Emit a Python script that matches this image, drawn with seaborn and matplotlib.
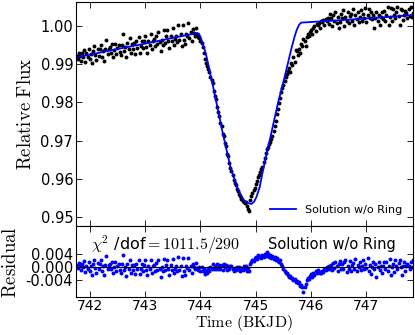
import numpy as np
import seaborn as sns
import matplotlib
matplotlib.use("Agg")
import matplotlib.pyplot as plt
from matplotlib.ticker import FormatStrFormatter

plt.rcParams['mathtext.fontset'] = 'cm'
plt.rcParams['font.family'] = ['DejaVu Sans']

# time stamps of the light curve (BKJD)
time = [
    741.76, 741.78, 741.80, 741.82, 741.84, 741.86, 741.88, 741.90, 741.92, 741.94,
    741.96, 741.98, 742.00, 742.02, 742.04, 742.06, 742.08, 742.10, 742.12, 742.14,
    742.16, 742.18, 742.20, 742.22, 742.24, 742.26, 742.28, 742.30, 742.32, 742.34,
    742.36, 742.38, 742.40, 742.42, 742.44, 742.46, 742.48, 742.50, 742.52, 742.54,
    742.56, 742.58, 742.60, 742.62, 742.64, 742.66, 742.68, 742.70, 742.72, 742.74,
    742.76, 742.78, 742.80, 742.82, 742.84, 742.86, 742.88, 742.90, 742.92, 742.94,
    742.96, 742.98, 743.00, 743.02, 743.04, 743.06, 743.08, 743.10, 743.12, 743.14,
    743.16, 743.18, 743.20, 743.22, 743.24, 743.26, 743.28, 743.30, 743.32, 743.34,
    743.36, 743.38, 743.40, 743.42, 743.44, 743.46, 743.48, 743.50, 743.52, 743.54,
    743.56, 743.58, 743.60, 743.62, 743.64, 743.66, 743.68, 743.70, 743.72, 743.74,
    743.76, 743.78, 743.80, 743.82, 743.84, 743.86, 743.88, 743.90, 743.92, 743.94,
    743.96, 743.98, 744.00, 744.02, 744.04, 744.06, 744.08, 744.10, 744.12, 744.14,
    744.16, 744.18, 744.20, 744.22, 744.24, 744.26, 744.28, 744.30, 744.32, 744.34,
    744.36, 744.38, 744.40, 744.42, 744.44, 744.46, 744.48, 744.50, 744.52, 744.54,
    744.56, 744.58, 744.60, 744.62, 744.64, 744.66, 744.68, 744.70, 744.72, 744.74,
    744.76, 744.78, 744.80, 744.82, 744.84, 744.86, 744.88, 744.90, 744.92, 744.94,
    744.96, 744.98, 745.00, 745.02, 745.04, 745.06, 745.08, 745.10, 745.12, 745.14,
    745.16, 745.18, 745.20, 745.22, 745.24, 745.26, 745.28, 745.30, 745.32, 745.34,
    745.36, 745.38, 745.40, 745.42, 745.44, 745.46, 745.48, 745.50, 745.52, 745.54,
    745.56, 745.58, 745.60, 745.62, 745.64, 745.66, 745.68, 745.70, 745.72, 745.74,
    745.76, 745.78, 745.80, 745.82, 745.84, 745.86, 745.88, 745.90, 745.92, 745.94,
    745.96, 745.98, 746.00, 746.02, 746.04, 746.06, 746.08, 746.10, 746.12, 746.14,
    746.16, 746.18, 746.20, 746.22, 746.24, 746.26, 746.28, 746.30, 746.32, 746.34,
    746.36, 746.38, 746.40, 746.42, 746.44, 746.46, 746.48, 746.50, 746.52, 746.54,
    746.56, 746.58, 746.60, 746.62, 746.64, 746.66, 746.68, 746.70, 746.72, 746.74,
    746.76, 746.78, 746.80, 746.82, 746.84, 746.86, 746.88, 746.90, 746.92, 746.94,
    746.96, 746.98, 747.00, 747.02, 747.04, 747.06, 747.08, 747.10, 747.12, 747.14,
    747.16, 747.18, 747.20, 747.22, 747.24, 747.26, 747.28, 747.30, 747.32, 747.34,
    747.36, 747.38, 747.40, 747.42, 747.44, 747.46, 747.48, 747.50, 747.52, 747.54,
    747.56, 747.58, 747.60, 747.62, 747.64, 747.66, 747.68, 747.70, 747.72, 747.74,
    747.76, 747.78, 747.80, 747.82, 747.84,
]

# observed relative flux
flux = [
    # out of transit, before (741.76 - 743.94)
    0.9922, 0.9913, 0.9929, 0.9922, 0.9908, 0.9929, 0.9918, 0.9938, 0.9905, 0.9929,
    0.9918, 0.9941, 0.9913, 0.9928, 0.9904, 0.9935, 0.9948, 0.9924, 0.9911, 0.9941,
    0.9922, 0.9941, 0.9951, 0.9918, 0.9934, 0.9909, 0.9940, 0.9964, 0.9927, 0.9941,
    0.9944, 0.9929, 0.9953, 0.9920, 0.9938, 0.9953, 0.9926, 0.9942, 0.9951, 0.9931,
    0.9924, 0.9951, 0.9979, 0.9934, 0.9944, 0.9919, 0.9956, 0.9940, 0.9969, 0.9929,
    0.9954, 0.9939, 0.9955, 0.9928, 0.9960, 0.9943, 0.9972, 0.9930, 0.9947, 0.9961,
    0.9942, 0.9961, 0.9975, 0.9946, 0.9930, 0.9961, 0.9950, 0.9980, 0.9941, 0.9961,
    0.9966, 0.9949, 0.9973, 0.9952, 0.9984, 0.9957, 0.9934, 0.9964, 0.9951, 0.9989,
    0.9956, 0.9973, 0.9989, 0.9960, 0.9942, 0.9975, 0.9960, 0.9994, 0.9951, 0.9965,
    0.9974, 0.9959, 1.0003, 0.9964, 0.9978, 0.9947, 1.0002, 0.9964, 0.9953, 0.9979,
    0.9974, 1.0007, 0.9969, 0.9984, 0.9960, 0.9991, 0.9982, 0.9974, 0.9995, 0.9979,
    # ingress (743.96 - 744.90)
    0.9972, 0.9968, 0.9962, 0.9955, 0.9944, 0.9930, 0.9915, 0.9903, 0.9895, 0.9888,
    0.9880, 0.9866, 0.9858, 0.9851, 0.9830, 0.9818, 0.9808, 0.9789, 0.9775, 0.9765,
    0.9746, 0.9737, 0.9718, 0.9712, 0.9693, 0.9685, 0.9666, 0.9659, 0.9641, 0.9628,
    0.9620, 0.9611, 0.9596, 0.9588, 0.9583, 0.9573, 0.9569, 0.9560, 0.9554, 0.9548,
    0.9543, 0.9540, 0.9536, 0.9538, 0.9529, 0.9522, 0.9515, 0.9545,
    # egress (744.92 - 746.30)
    0.9556, 0.9563, 0.9570, 0.9575, 0.9586, 0.9593, 0.9604, 0.9610, 0.9618, 0.9625,
    0.9632, 0.9645, 0.9655, 0.9668, 0.9678, 0.9684, 0.9692, 0.9697, 0.9705, 0.9712,
    0.9724, 0.9737, 0.9752, 0.9770, 0.9784, 0.9798, 0.9812, 0.9826, 0.9838, 0.9846,
    0.9855, 0.9866, 0.9874, 0.9882, 0.9889, 0.9880, 0.9903, 0.9898, 0.9920, 0.9905,
    0.9936, 0.9935, 0.9924, 0.9941, 0.9930, 0.9953, 0.9948, 0.9966, 0.9962, 0.9949,
    0.9972, 0.9980, 0.9975, 0.9984, 0.9990, 0.9978, 0.9996, 1.0001, 0.9988, 1.0006,
    1.0003, 1.0008, 0.9996, 1.0012, 1.0010, 1.0016, 1.0002, 1.0019, 1.0014, 1.0021,
    # out of transit, after (746.32 - 747.84)
    1.0006, 1.0032, 1.0020, 1.0000, 1.0028, 1.0014, 1.0038, 1.0008, 1.0024, 0.9996,
    1.0010, 1.0032, 1.0020, 1.0042, 1.0000, 1.0024, 1.0014, 1.0038, 1.0008, 1.0026,
    1.0032, 1.0014, 1.0046, 1.0004, 1.0028, 1.0018, 1.0038, 1.0010, 1.0024, 1.0042,
    1.0014, 1.0032, 1.0020, 1.0048, 1.0010, 1.0028, 1.0045, 1.0022, 1.0036, 1.0018,
    1.0030, 0.9996, 1.0022, 1.0038, 1.0014, 1.0028, 1.0004, 1.0024, 1.0036, 1.0018,
    1.0040, 1.0014, 1.0028, 1.0050, 1.0002, 1.0024, 1.0048, 1.0012, 1.0046, 1.0030,
    1.0020, 1.0038, 1.0050, 1.0026, 1.0002, 1.0046, 1.0042, 1.0016, 1.0030, 1.0040,
    1.0033, 1.0021, 1.0045, 1.0027, 1.0051, 1.0023, 1.0035,
]

# residuals (data - model), in units of 1e-4
resid_1e4 = [
    6, -4, 12, 2, -10, 8, -2, 18, -16, 4,
    -6, 16, -12, 2, -26, 8, 20, -4, -18, 12,
    -8, 10, 20, -14, 2, -26, 6, 34, -8, 6,
    8, -8, 16, -18, 0, 14, -14, 2, 10, -10,
    -18, 8, 36, -10, 0, -28, 10, -6, 22, -18,
    6, -10, 6, -22, 10, -8, 20, -22, -6, 8,
    -12, 6, 20, -10, -26, 4, -8, 22, -18, 2,
    6, -12, 12, -10, 22, -6, -30, 0, -14, 24,
    -10, 6, 22, -8, -26, 6, -10, 24, -20, -6,
    2, -14, 30, -10, 4, -28, 26, -12, -24, 2,
    -4, 28, -10, 4, -20, 10, 0, -8, 12, -4,
    -10, -2, -12, 0, -14, -8, -22, -14, -20, -4,
    -12, -2, -8, 10, -6, 4, -6, 8, -8, 6,
    -8, 6, -10, 8, -2, 6, -10, 4, -8, 2,
    2, -8, -14, -4, -10, -2, -8, 0, -12, -4,
    -10, 2, -8, 4, -12, -4, -14, 8, 16, 22,
    18, 26, 31, 24, 35, 29, 33, 27, 36, 30,
    38, 33, 45, 40, 31, 36, 28, 34, 25, 30,
    22, 27, 18, 14, 20, 8, 3, -6, -12, -18,
    -20, -24, -30, -27, -35, -33, -40, -38, -46, -42,
    -50, -45, -58, -55, -63, -78, -60, -52, -40, -33,
    -36, -28, -22, -30, -19, -24, -14, -20, -11, -16,
    -18, -20, -12, -16, -6, -10, -2, -8, 4, -8,
    6, -10, 12, -4, 16, 2, -12, 8, 18, -6,
    10, -8, 14, 22, -16, 4, -6, 18, -12, 6,
    12, -6, 24, -14, 6, -2, 16, -10, 2, 20,
    -8, 10, -4, 28, -12, 6, -22, 0, 14, -6,
    8, -30, 0, 16, -10, 4, -20, 2, 14, -6,
    14, -12, 2, 24, -26, -2, 8, -16, 20, 4,
    -6, 12, 22, -2, -24, 4, 14, -12, 2, 10,
    4, -8, 16, -2, 20,
]

# best-fit model without ring
model_t = [741.75, 742.00, 742.50, 743.00, 743.50, 743.85, 743.92, 743.97, 744.00,
           744.05, 744.10, 744.23, 744.39, 744.54, 744.68, 744.78, 744.84, 744.92,
           744.97, 745.01, 745.07, 745.12, 745.25, 745.40, 745.52, 745.60, 745.65,
           745.70, 745.74, 745.78, 745.82, 746.50, 747.00, 747.50, 747.84]
model_f = [0.9918, 0.9925, 0.9940, 0.9954, 0.9969, 0.9979, 0.9982, 0.9980, 0.9972,
           0.9950, 0.9926, 0.9840, 0.9728, 0.9631, 0.9571, 0.9545, 0.9537, 0.9534,
           0.9540, 0.9552, 0.9578, 0.9615, 0.9700, 0.9798, 0.9866, 0.9915, 0.9945,
           0.9972, 0.9990, 1.0003, 1.0009, 1.0015, 1.0020, 1.0025, 1.0029]

resid = np.array(resid_1e4) * 1e-4

fig = plt.figure(figsize=(4.15, 3.35), dpi=100)
ax1 = fig.add_axes([0.1831, 0.3239, 0.8120, 0.6701])
ax2 = fig.add_axes([0.1831, 0.1134, 0.8120, 0.2105], sharex=ax1)

# light curve + model
sns.scatterplot(x=time, y=flux, color='k', s=8, linewidth=0, ax=ax1, legend=False)
sns.lineplot(x=model_t, y=model_f, sort=False, color='#0000ff', lw=1.3, ax=ax1,
             label='Solution w/o Ring')
ax1.legend(loc='lower right', frameon=False, fontsize=8, handlelength=2.3,
           borderaxespad=0.6)
ax1.set_ylim(0.9475, 1.0063)
ax1.set_yticks([0.95, 0.96, 0.97, 0.98, 0.99, 1.00])
ax1.yaxis.set_major_formatter(FormatStrFormatter('%.2f'))
ax1.set_ylabel(r'$\rm Relative\ Flux$', fontsize=13.5)
ax1.tick_params(labelbottom=False)

# residuals
sns.scatterplot(x=time, y=resid, color='#0000ff', s=8, linewidth=0, ax=ax2, legend=False)
ax2.axhline(0, color='k', lw=0.8)
ax2.set_ylim(-0.0092, 0.0123)
ax2.set_yticks([-0.004, 0.0, 0.004])
ax2.yaxis.set_major_formatter(FormatStrFormatter('%.3f'))
ax2.set_xlim(741.75, 747.84)
ax2.set_xticks([742, 743, 744, 745, 746, 747])
ax2.set_ylabel(r'$\rm Residual$', fontsize=13.5)
ax2.set_xlabel(r'$\rm Time\ (BKJD)$', fontsize=11.5, labelpad=0)
ax2.text(0.045, 0.74, r'$\chi^2$ /dof$=1011.5/290$', transform=ax2.transAxes,
         fontsize=11.5, va='center')
ax2.text(0.57, 0.74, 'Solution w/o Ring', transform=ax2.transAxes,
         fontsize=10.5, va='center')

for ax in (ax1, ax2):
    ax.tick_params(direction='in', top=True, right=True, length=4, width=0.6,
                   labelsize=10.5, pad=2)
    for sp in ax.spines.values():
        sp.set_linewidth(0.8)
ax2.tick_params(axis='x', labelsize=10, pad=1.5)

fig.savefig('out.png', dpi=100)
